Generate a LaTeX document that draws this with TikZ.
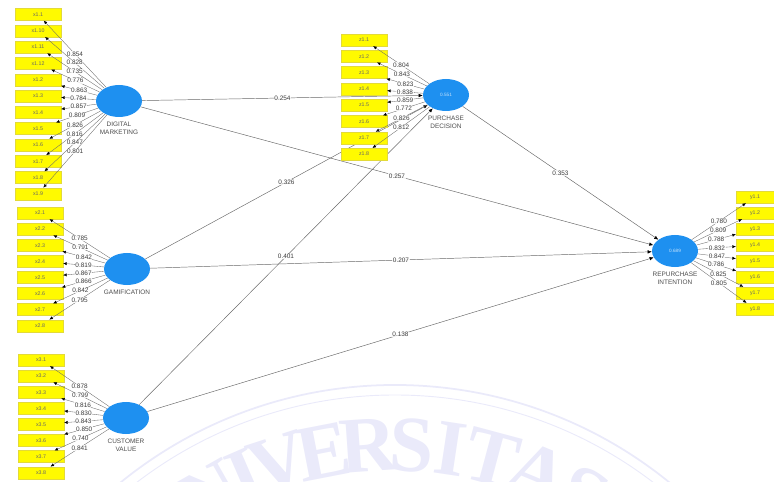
\documentclass[tikz,border=0pt]{standalone}
\usepackage{fontspec}
\setmainfont{Liberation Sans}
\newfontfamily\sealfont{Liberation Serif}
\usetikzlibrary{shapes.geometric}
\usetikzlibrary{positioning}
\usetikzlibrary{arrows.meta}
\definecolor{plsblue}{RGB}{30,144,240}
\definecolor{plsyellow}{RGB}{255,250,0}
\definecolor{linegray}{RGB}{105,105,105}
\definecolor{sealcolor}{RGB}{234,234,250}

\begin{document}
\begin{tikzpicture}[x=0.03cm, y=-0.03cm,
    latent/.style={ellipse, fill=plsblue, minimum width=1.38cm, minimum height=0.96cm, inner sep=0pt,
        text=white!75!plsblue, font=\fontsize{4}{4}\selectfont},
    indicator/.style={rectangle, fill=plsyellow, draw=yellow!75!gray, line width=0.2pt,
        minimum width=1.38cm, minimum height=0.36cm, inner sep=0pt, font=\fontsize{4.5}{5}\selectfont, text=black!60},
    caption/.style={font=\fontsize{5.5}{6.5}\selectfont, text=black!70, align=center, inner sep=0pt},
    loading/.style={-{Latex[length=3pt,width=2.6pt,color=black]}, linegray, line width=0.3pt},
    structural/.style={-{Latex[length=3.5pt,width=3pt,color=black]}, linegray, line width=0.4pt},
    weight/.style={midway, font=\fontsize{5.5}{6}\selectfont, text=black!75, fill=white,
        fill opacity=0.8, text opacity=1, inner sep=0.4pt}]

    \useasboundingbox (0,0) rectangle (774,482);

    % University seal in the background
    \begin{scope}
        \clip (0,0) rectangle (774,482);
        \draw[sealcolor, line width=1.5pt] (395,820) circle (13.05cm);
        \draw[sealcolor, line width=0.8pt] (395,820) circle (12.75cm);
        \foreach \ch/\a in {U/-38,N/-29.5,I/-23.5,V/-18,E/-11,R/-4,S/2.5,I/8.5,T/15,A/22.5,S/30}
            \node[text=sealcolor, inner sep=0pt, font=\sealfont\bfseries\fontsize{68}{68}\selectfont, rotate=-\a]
                at ({395+375*sin(\a)},{820-375*cos(\a)}) {\ch};
    \end{scope}

    % Latent variables
    \node[latent] (dm)  at (119,101) {};
    \node[latent] (gam) at (127,269) {};
    \node[latent] (cv)  at (126,418) {};
    \node[latent] (pd)  at (446,95)  {0.551};
    \node[latent] (ri)  at (675,251) {0.689};

    \node[caption, below=4pt of dm]  {DIGITAL\\MARKETING};
    \node[caption, below=4pt of gam] {GAMIFICATION};
    \node[caption, below=4pt of cv]  {CUSTOMER\\VALUE};
    \node[caption, below=4pt of pd]  {PURCHASE\\DECISION};
    \node[caption, below=4pt of ri]  {REPURCHASE\\INTENTION};

    % Inner model
    \draw[structural] (dm)  -- node[weight] {0.254} (pd);
    \draw[structural] (dm)  -- node[weight] {0.257} (ri);
    \draw[structural] (gam) -- node[weight] {0.326} (pd);
    \draw[structural] (gam) -- node[weight] {0.207} (ri);
    \draw[structural] (cv)  -- node[weight] {0.401} (pd);
    \draw[structural] (cv)  -- node[weight] {0.138} (ri);
    \draw[structural] (pd)  -- node[weight] {0.353} (ri);

    % Indicators
    \foreach \lab [count=\i from 0] in {x1.1,x1.10,x1.11,x1.12,x1.2,x1.3,x1.4,x1.5,x1.6,x1.7,x1.8,x1.9}
        \node[indicator] (dm\i) at (38,{14.5+16.3*\i}) {\lab};
    \foreach \lab [count=\i from 0] in {x2.1,x2.2,x2.3,x2.4,x2.5,x2.6,x2.7,x2.8}
        \node[indicator] (gam\i) at (40,{213+16.1*\i}) {\lab};
    \foreach \lab [count=\i from 0] in {x3.1,x3.2,x3.3,x3.4,x3.5,x3.6,x3.7,x3.8}
        \node[indicator] (cv\i) at (41,{360+16.1*\i}) {\lab};
    \foreach \lab [count=\i from 0] in {z1.1,z1.2,z1.3,z1.4,z1.5,z1.6,z1.7,z1.8}
        \node[indicator] (pd\i) at (364,{40+16.3*\i}) {\lab};
    \foreach \lab [count=\i from 0] in {y1.1,y1.2,y1.3,y1.4,y1.5,y1.6,y1.7,y1.8}
        \node[indicator, minimum width=1.14cm] (ri\i) at (755,{197+16*\i}) {\lab};

    % Outer loadings
    \foreach \w [count=\i from 0] in {0.854,0.828,0.735,0.776,0.863,0.784,0.857,0.809,0.826,0.816,0.847,0.801}
        \draw[loading] (dm) -- node[weight] {\w} (dm\i);
    \foreach \w [count=\i from 0] in {0.785,0.791,0.842,0.819,0.867,0.866,0.842,0.795}
        \draw[loading] (gam) -- node[weight] {\w} (gam\i);
    \foreach \w [count=\i from 0] in {0.878,0.799,0.816,0.830,0.843,0.850,0.740,0.841}
        \draw[loading] (cv) -- node[weight] {\w} (cv\i);
    \foreach \w [count=\i from 0] in {0.804,0.843,0.823,0.838,0.859,0.772,0.826,0.812}
        \draw[loading] (pd) -- node[weight] {\w} (pd\i);
    \foreach \w [count=\i from 0] in {0.780,0.809,0.788,0.832,0.847,0.786,0.825,0.805}
        \draw[loading] (ri) -- node[weight] {\w} (ri\i);

\end{tikzpicture}
\end{document}
